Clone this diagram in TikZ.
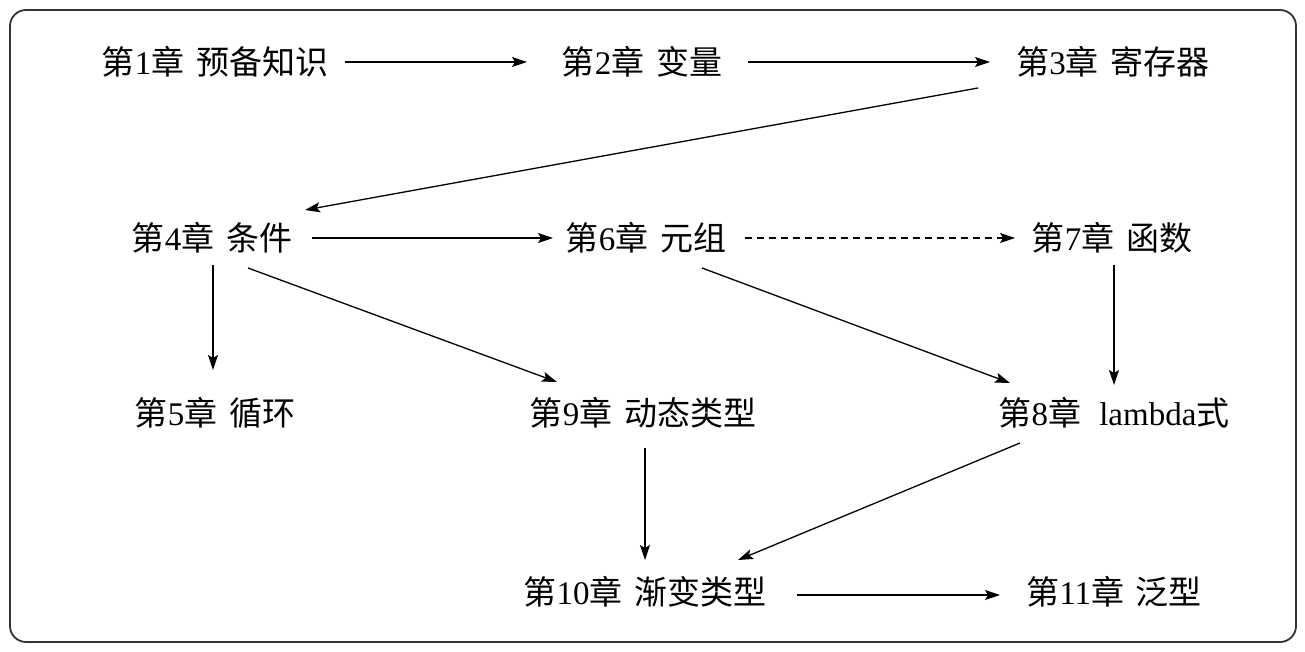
\documentclass[tikz,border=0pt]{standalone}
\usepackage{fontspec}
\setmainfont{Liberation Serif}
\newfontfamily\cjk{Noto Sans CJK SC}
\usetikzlibrary{arrows.meta}
\tikzset{
  chap/.style={inner sep=0pt, font=\fontsize{33}{38}\selectfont},
  arr/.style={-{Stealth[length=15pt,width=10pt,inset=3pt]}, line width=1.3pt},
  frame/.style={rounded corners=16pt, line width=1.8pt, draw=black!80}
}
\newcommand\C[1]{{\cjk #1}}
\begin{document}
\begin{tikzpicture}[x=1pt,y=-1pt]
\useasboundingbox (0,0) rectangle (1305,652);
\draw[frame] (10,10) rectangle (1296,642);
\node[chap] (n1) at (215,62) {\C{第}1\C{章}\hspace{0.35em}\C{预备知识}};
\node[chap] (n2) at (642,62) {\C{第}2\C{章}\hspace{0.35em}\C{变量}};
\node[chap] (n3) at (1113,62) {\C{第}3\C{章}\hspace{0.35em}\C{寄存器}};
\node[chap] (n4) at (212,238) {\C{第}4\C{章}\hspace{0.35em}\C{条件}};
\node[chap] (n6) at (646,238) {\C{第}6\C{章}\hspace{0.35em}\C{元组}};
\node[chap] (n7) at (1112,238) {\C{第}7\C{章}\hspace{0.35em}\C{函数}};
\node[chap] (n5) at (215,413) {\C{第}5\C{章}\hspace{0.35em}\C{循环}};
\node[chap] (n9) at (643,413) {\C{第}9\C{章}\hspace{0.35em}\C{动态类型}};
\node[chap] (n8) at (1114,413) {\C{第}8\C{章}\hspace{0.55em}lambda\C{式}};
\node[chap] (n10) at (645,592) {\C{第}10\C{章}\hspace{0.35em}\C{渐变类型}};
\node[chap] (n11) at (1114,592) {\C{第}11\C{章}\hspace{0.35em}\C{泛型}};
\draw[arr] ([xshift=130pt]n1.center) -- ([xshift=-115pt]n2.center);
\draw[arr] ([xshift=106pt]n2.center) -- ([xshift=-123pt]n3.center);
\draw[arr] ([xshift=-135pt,yshift=-26pt]n3.center) -- ([xshift=93pt,yshift=28pt]n4.center);
\draw[arr] ([xshift=100pt]n4.center) -- ([xshift=-93pt]n6.center);
\draw[arr,dashed,dash pattern=on 7pt off 5pt] ([xshift=99pt]n6.center) -- ([xshift=-97pt]n7.center);
\draw[arr] ([xshift=1pt,yshift=-27pt]n4.center) -- ([xshift=-2pt,yshift=43pt]n5.center);
\draw[arr] ([xshift=36pt,yshift=-30pt]n4.center) -- ([xshift=-86pt,yshift=31pt]n9.center);
\draw[arr] ([xshift=56pt,yshift=-30pt]n6.center) -- ([xshift=-104pt,yshift=30pt]n8.center);
\draw[arr] ([xshift=2pt,yshift=-27pt]n7.center) -- ([xshift=0pt,yshift=28pt]n8.center);
\draw[arr] ([xshift=2pt,yshift=-35pt]n9.center) -- ([xshift=0pt,yshift=32pt]n10.center);
\draw[arr] ([xshift=-94pt,yshift=-30pt]n8.center) -- ([xshift=93pt,yshift=32pt]n10.center);
\draw[arr] ([xshift=152pt,yshift=-3pt]n10.center) -- ([xshift=-114pt,yshift=-3pt]n11.center);
\end{tikzpicture}
\end{document}
